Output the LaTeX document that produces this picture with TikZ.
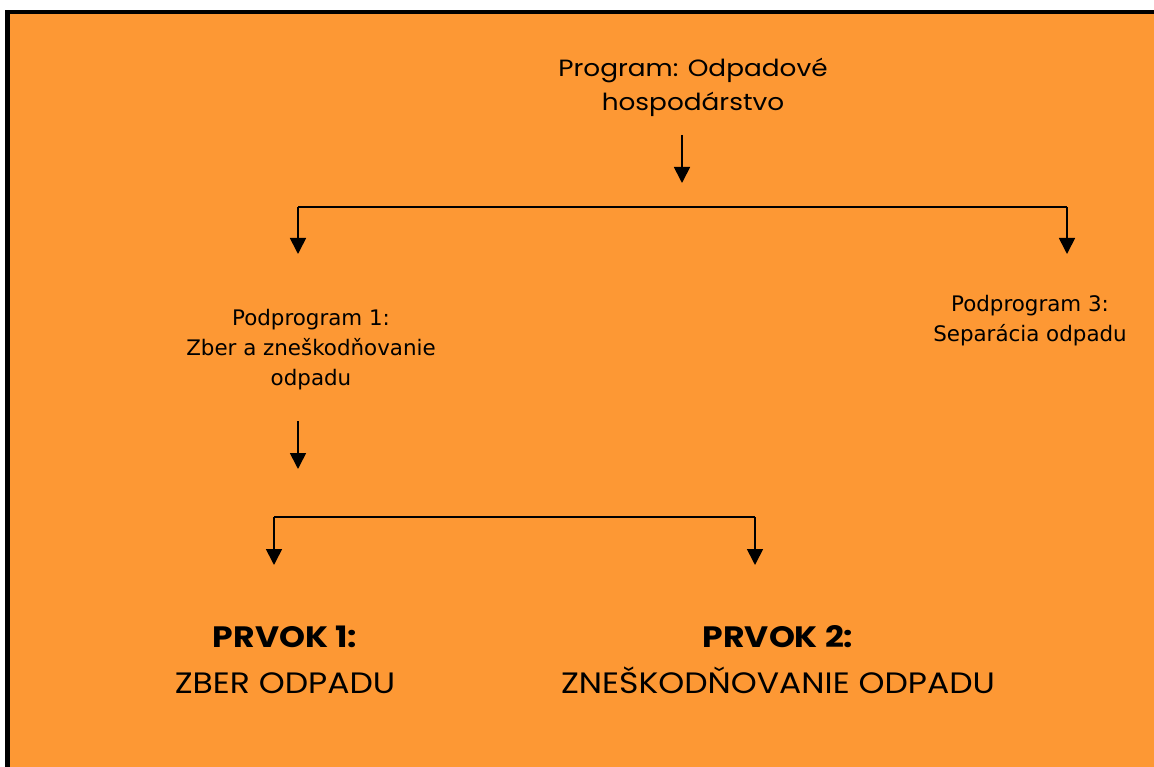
\documentclass[tikz,border=0pt]{standalone}
\usepackage{fontspec}
\setmainfont{DejaVu Sans}
\newfontfamily\gothic[FakeStretch=1.12]{Poppins}
\usetikzlibrary{arrows.meta}
\definecolor{bgorange}{RGB}{253,152,52}
\begin{document}
\begin{tikzpicture}[x=1pt,y=-1pt,
  arr/.style={-{Triangle[length=16pt,width=16pt]}, line width=1.7pt},
  link/.style={line width=1.7pt},
  progtext/.style={align=center, inner sep=0pt, font=\gothic\fontsize{23.5}{34}\selectfont},
  subtext/.style={align=center, inner sep=0pt, font=\fontsize{21.4}{30}\selectfont},
  elemtext/.style={align=center, inner sep=0pt, font=\gothic\fontsize{29.5}{46}\selectfont}]
\useasboundingbox (0,0) rectangle (1154,767);
\fill[white] (0,0) rectangle (1154,767);
\fill[bgorange] (7.5,12) rectangle (1154,767);
\draw[line width=4.5pt] (7.5,767) -- (7.5,12) -- (1154,12);

% texts
\node[progtext] (prog) at (693,87) {Program: Odpadové\\hospodárstvo};
\node[subtext] (sub1) at (311,350) {Podprogram 1:\\Zber a zneškodňovanie\\odpadu};
\node[subtext] (sub3) at (1030,321) {Podprogram 3:\\Separácia odpadu};
\node[elemtext] (el1) at (285,660) {\textbf{PRVOK 1:}\\ZBER ODPADU};
\node[elemtext] (el2) at (778,660) {\textbf{PRVOK 2:}\\ZNEŠKODŇOVANIE ODPADU};

% connector points
\coordinate (p1a) at (682,135);
\coordinate (p1b) at (682,183);
\coordinate (b1l) at (298,207);
\coordinate (b1r) at (1067,207);
\coordinate (b1lend) at (298,254);
\coordinate (b1rend) at (1067,254);
\coordinate (p2a) at (298,421);
\coordinate (p2b) at (298,469);
\coordinate (b2l) at (274,517);
\coordinate (b2r) at (755,517);
\coordinate (b2lend) at (274,565);
\coordinate (b2rend) at (755,565);

% connectors
\draw[arr] (p1a) -- (p1b);
\draw[link] (b1l) -- (b1r);
\draw[arr] (b1l) -- (b1lend);
\draw[arr] (b1r) -- (b1rend);
\draw[arr] (p2a) -- (p2b);
\draw[link] (b2l) -- (b2r);
\draw[arr] (b2l) -- (b2lend);
\draw[arr] (b2r) -- (b2rend);
\end{tikzpicture}
\end{document}
